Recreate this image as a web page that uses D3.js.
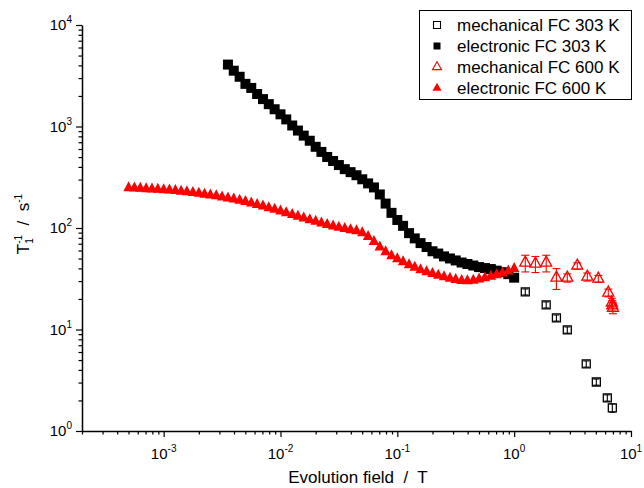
<!DOCTYPE html>
<html><head><meta charset="utf-8">
<script src="https://cdn.jsdelivr.net/npm/d3@7"></script>
<style>
body{margin:0;background:#fff}
text{font-family:"Liberation Sans",Arial,Helvetica,sans-serif;fill:#000}
</style>
</head><body>
<svg id="chart" width="644" height="488"></svg>
<script>
// ---------- data ----------
const elec303X = [0.00355,0.00398,0.00447,0.00501,0.00562,0.00631,0.00708,0.00794,0.00891,0.0100,
  0.0112,0.0126,0.0141,0.0158,0.0178,0.0200,0.0224,0.0251,0.0282,0.0316,
  0.0355,0.0398,0.0447,0.0501,0.0562,0.0631,0.0708,0.0794,0.0891,0.100,
  0.112,0.126,0.141,0.158,0.178,0.200,0.224,0.251,0.282,0.316,
  0.355,0.398,0.447,0.501,0.562,0.631,0.708,0.794,0.891,1.000];
const elec303Y = [4074,3548,3090,2630,2399,2089,1862,1660,1479,1318,
  1175,1023,912,813,724,631,562,501,457,417,
  380,355,331,302,275,251,214,174,141,120,
  105,89,79,71,65,59,56,52.5,50.1,47.9,
  45.7,44.2,42.7,41.2,40.3,39.4,38.0,36.7,35.1,32.4];

const elec600X = [0.000501,0.000562,0.000631,0.000708,0.000794,0.000891,0.00100,0.00112,0.00126,0.00141,
  0.00158,0.00178,0.00200,0.00224,0.00251,0.00282,0.00316,
  0.00355,0.00398,0.00447,0.00501,0.00562,0.00631,0.00708,0.00794,0.00891,0.0100,
  0.0112,0.0126,0.0141,0.0158,0.0178,0.0200,0.0224,0.0251,0.0282,0.0316,
  0.0355,0.0398,0.0447,0.0501,0.0562,0.0631,0.0708,0.0794,0.0891,0.100,
  0.112,0.126,0.141,0.158,0.178,0.200,0.224,0.251,0.282,0.316,
  0.355,0.398,0.447,0.501,0.562,0.631,0.708,0.794,0.891,1.000];
const elec600Y = [248.3,246.6,244.9,243.2,241.5,239.9,237.7,235.5,232.8,229.6,
  226.5,222.8,218.8,214.8,210.9,206.5,201.8,
  197.2,192.3,187.1,181.6,175.8,169.8,163.7,157.8,152.1,146.2,
  140.6,135.2,130.0,125.0,120.2,115.9,111.7,107.9,104.5,101.2,
  98.4,95.9,93.8,89.5,82.2,73.3,64.6,58.2,53.1,49.5,
  46.2,43.4,40.9,38.7,37.0,35.5,34.2,33.0,31.8,30.9,
  30.2,30.1,30.5,31.3,32.2,33.3,34.4,35.9,37.6,39.8];

const mech303X = [1.245,1.88,2.30,2.85,4.14,5.05,6.27,6.92];
const mech303Y = [23.5,17.5,13.0,9.9,4.58,3.04,2.12,1.69];
const mech303Err = [1.6,1.2,0.9,0.7,0.32,0.21,0.15,0.16];

const mech600X = [1.245,1.52,1.88,2.30,2.85,3.47,4.23,5.25,6.39,6.85,6.92,7.0];
const mech600Y = [45.4,44.4,45.4,32.3,32.3,42.4,33.0,31.6,23.0,18.3,17.2,16.3];
const mech600Err = [8.5,8,8.5,7.5,3,3,3,2.5,2,2,2,2];

const xTickValues = [1e-3,1e-2,1e-1,1,10];
const xTickExps = ["-3","-2","-1","0","1"];
const yTickValues = [1,10,100,1000,10000];
const yTickExps = ["0","1","2","3","4"];

const legendLabels = ["mechanical FC 303 K","electronic FC 303 K","mechanical FC 600 K","electronic FC 600 K"];

// ---------- chart ----------
const svg = d3.select("#chart");
const pLeft = 82, pRight = 631, pTop = 25, pBottom = 431;
const x = d3.scaleLog().domain([2e-4,10]).range([pLeft,pRight]);
const y = d3.scaleLog().domain([1,1e4]).range([pBottom,pTop]);

const isDecade = d => Math.abs(Math.log10(d) - Math.round(Math.log10(d))) < 1e-9;

function styleAxis(g){
  g.selectAll("path.domain").attr("stroke","#000").attr("stroke-width",1.5);
  g.selectAll(".tick line").attr("stroke","#000").attr("stroke-width",1.2);
}

// minor ticks
const gxMinor = svg.append("g").attr("transform",`translate(0,${pBottom})`)
  .call(d3.axisBottom(x).tickValues(x.ticks().filter(d=>!isDecade(d))).tickSize(3.5).tickSizeOuter(0).tickFormat(""));
gxMinor.select("path.domain").remove();
styleAxis(gxMinor);
const gyMinor = svg.append("g").attr("transform",`translate(${pLeft},0)`)
  .call(d3.axisLeft(y).tickValues(y.ticks().filter(d=>!isDecade(d))).tickSize(3.5).tickSizeOuter(0).tickFormat(""));
gyMinor.select("path.domain").remove();
styleAxis(gyMinor);

// major ticks + axis line
const gx = svg.append("g").attr("transform",`translate(0,${pBottom})`)
  .call(d3.axisBottom(x).tickValues(xTickValues).tickSize(6).tickSizeOuter(0).tickFormat(""));
styleAxis(gx);
const gy = svg.append("g").attr("transform",`translate(${pLeft},0)`)
  .call(d3.axisLeft(y).tickValues(yTickValues).tickSize(6).tickSizeOuter(0).tickFormat(""));
styleAxis(gy);

// tick labels with superscripts
svg.selectAll("text.xl").data(xTickValues).join("text").attr("class","xl")
  .attr("x",d=>x(d)).attr("y",459).attr("text-anchor","middle").attr("font-size",15)
  .each(function(d,i){
    const t=d3.select(this);
    t.append("tspan").text("10");
    t.append("tspan").attr("dy",-7).attr("font-size",10).text(xTickExps[i]);
  });
svg.selectAll("text.yl").data(yTickValues).join("text").attr("class","yl")
  .attr("x",72).attr("y",d=>y(d)+5).attr("text-anchor","end").attr("font-size",15)
  .each(function(d,i){
    const t=d3.select(this);
    t.append("tspan").text("10");
    t.append("tspan").attr("dy",-7).attr("font-size",10).text(yTickExps[i]);
  });

// axis titles
svg.append("text").attr("x",358).attr("y",483).attr("text-anchor","middle")
  .attr("font-size",17).style("white-space","pre").text("Evolution field  /  T");
const yt = svg.append("text").attr("transform","translate(29,224) rotate(-90)")
  .attr("text-anchor","middle").attr("font-size",17).style("white-space","pre");
yt.append("tspan").text("T");
yt.append("tspan").attr("font-size",10).attr("dy",4).text("1");
yt.append("tspan").attr("font-size",10).attr("dx",-5.5).attr("dy",-11).text("-1");
yt.append("tspan").attr("dy",7).text("  /  s");
yt.append("tspan").attr("font-size",10).attr("dy",-7).text("-1");

// marker paths
const sq = s => `M${-s/2},${-s/2}h${s}v${s}h${-s}Z`;
const tri = (w,h) => `M0,${-h*2/3}L${w/2},${h/3}L${-w/2},${h/3}Z`;

// error bars helper
function errorBars(xs, ys, es, color, cap){
  const g = svg.append("g").attr("stroke",color).attr("stroke-width",1.1).attr("fill","none");
  xs.forEach((xv,i)=>{
    const cx = x(xv), y1 = y(ys[i]-es[i]), y2 = y(ys[i]+es[i]);
    g.append("line").attr("x1",cx).attr("x2",cx).attr("y1",y1).attr("y2",y2);
    g.append("line").attr("x1",cx-cap/2).attr("x2",cx+cap/2).attr("y1",y1).attr("y2",y1);
    g.append("line").attr("x1",cx-cap/2).attr("x2",cx+cap/2).attr("y1",y2).attr("y2",y2);
  });
}

// mechanical 303 K (open squares)
errorBars(mech303X, mech303Y, mech303Err, "#000", 6);
svg.append("g").selectAll("path").data(mech303X).join("path")
  .attr("transform",(d,i)=>`translate(${x(d)},${y(mech303Y[i])})`)
  .attr("d",sq(8)).attr("fill","none").attr("stroke","#000").attr("stroke-width",1.3);

// electronic 303 K (filled squares)
svg.append("g").selectAll("path").data(elec303X).join("path")
  .attr("transform",(d,i)=>`translate(${x(d)},${y(elec303Y[i])})`)
  .attr("d",sq(10)).attr("fill","#000");

// mechanical 600 K (open triangles)
errorBars(mech600X, mech600Y, mech600Err, "#ff0000", 8);
svg.append("g").selectAll("path").data(mech600X).join("path")
  .attr("transform",(d,i)=>`translate(${x(d)},${y(mech600Y[i])})`)
  .attr("d",tri(11,10)).attr("fill","none").attr("stroke","#ff0000").attr("stroke-width",1.3);

// electronic 600 K (filled triangles)
svg.append("g").selectAll("path").data(elec600X).join("path")
  .attr("transform",(d,i)=>`translate(${x(d)},${y(elec600Y[i])})`)
  .attr("d",tri(10.5,10)).attr("fill","#ff0000");

// legend
svg.append("rect").attr("x",419.5).attr("y",10.5).attr("width",212).attr("height",89)
  .attr("fill","#fff").attr("stroke","#000").attr("stroke-width",1);
const legY = [25,46,67,88];
const legSym = [
  {d:sq(7), fill:"none", stroke:"#000"},
  {d:sq(7), fill:"#000", stroke:"none"},
  {d:tri(9,8), fill:"none", stroke:"#ff0000"},
  {d:tri(9,8), fill:"#ff0000", stroke:"none"}
];
const lg = svg.append("g");
lg.selectAll("path").data(legSym).join("path")
  .attr("transform",(d,i)=>`translate(437,${legY[i]})`)
  .attr("d",d=>d.d).attr("fill",d=>d.fill).attr("stroke",d=>d.stroke).attr("stroke-width",1.1);
lg.selectAll("text").data(legendLabels).join("text")
  .attr("x",457).attr("y",(d,i)=>legY[i]+6).attr("font-size",17).text(d=>d);
</script>
</body></html>
